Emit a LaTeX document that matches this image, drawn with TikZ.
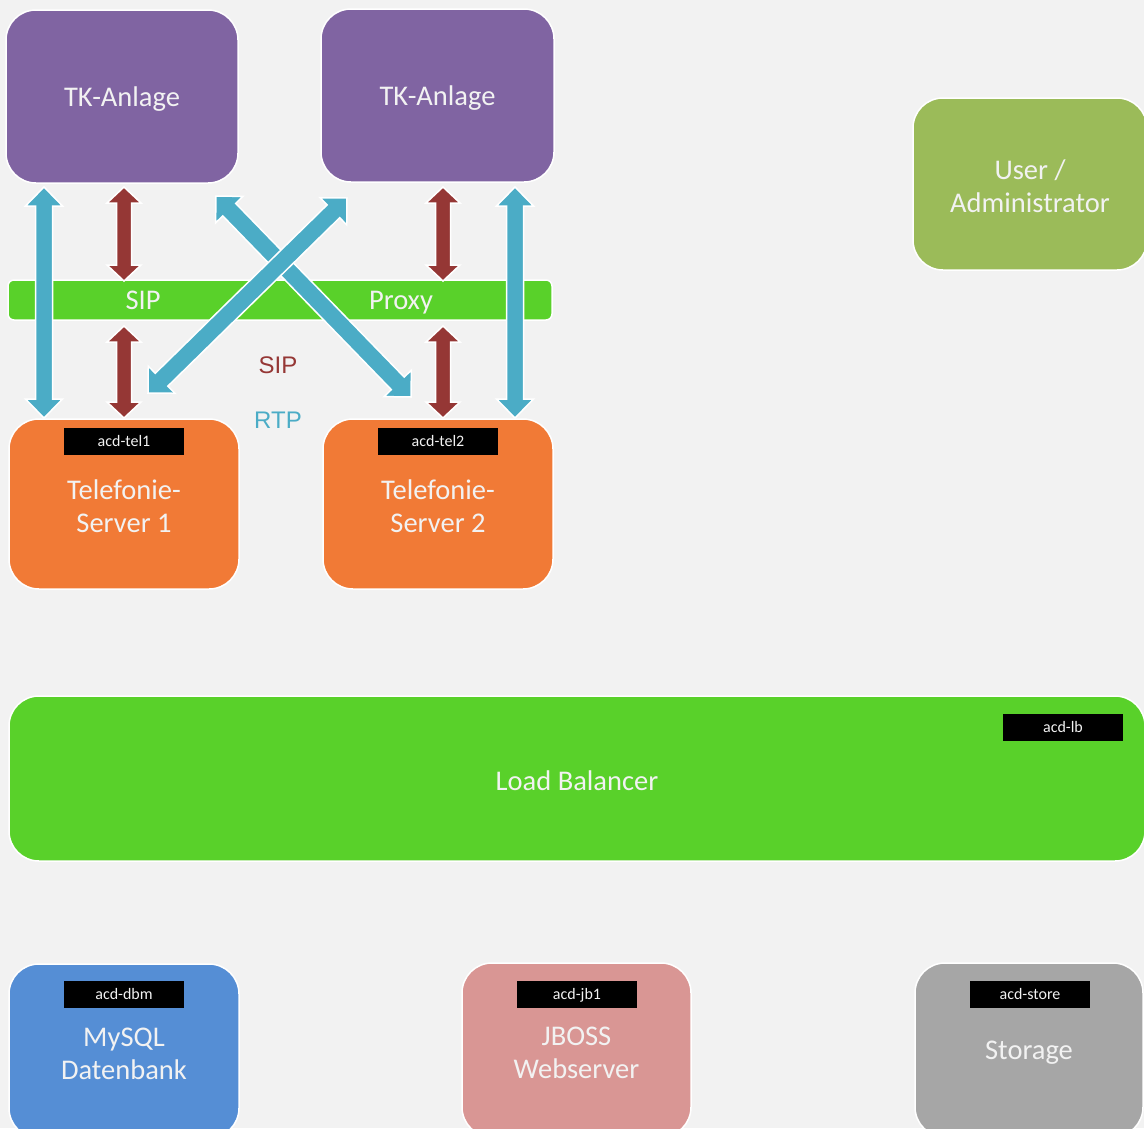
\documentclass[tikz,border=0pt]{standalone}
\usepackage{fontspec}
\setmainfont{Carlito}
\newfontfamily\arialfont{Liberation Sans}
\usetikzlibrary{calc}
\definecolor{bg}{HTML}{F2F2F2}
\definecolor{tkpurple}{HTML}{8064A2}
\definecolor{usergreen}{HTML}{9BBB59}
\definecolor{brightgreen}{HTML}{59D12A}
\definecolor{tsorange}{HTML}{F17A36}
\definecolor{dbblue}{HTML}{558ED5}
\definecolor{jbpink}{HTML}{D99694}
\definecolor{stgray}{HTML}{A6A6A6}
\definecolor{siprot}{HTML}{953735}
\definecolor{rtpblue}{HTML}{4BACC6}
\definecolor{txt}{HTML}{F2F2F2}
% fat double arrow: colour, start, end, shaft half width, head half width, head length
\newcommand{\fatarrow}[6]{%
  \coordinate (fa1) at ($(#2)!#6!(#3)$);
  \coordinate (fa2) at ($(#3)!#6!(#2)$);
  \filldraw[fill=#1, draw=white, line width=1.5pt, line join=miter]
    (#2) -- ($(fa1)!#5!90:(#3)$) -- ($(fa1)!#4!90:(#3)$)
    -- ($(fa2)!#4!-90:(#2)$) -- ($(fa2)!#5!-90:(#2)$) -- (#3)
    -- ($(fa2)!#5!90:(#2)$) -- ($(fa2)!#4!90:(#2)$)
    -- ($(fa1)!#4!-90:(#3)$) -- ($(fa1)!#5!-90:(#3)$) -- cycle;}
\begin{document}
\begin{tikzpicture}[x=1pt,y=-1pt,
  box/.style={draw=white, line width=1.5pt, rounded corners=30pt, inner sep=0pt},
  boxtext/.style={label={[lbl, align=center, yshift=-2.5pt]center:#1}},
  tag/.style={fill=black, text=txt, minimum width=120pt, minimum height=27pt,
    inner sep=0pt, text height=12.5pt, text depth=2.5pt, font=\fontsize{16}{19}\selectfont},
  lbl/.style={text=txt, inner sep=0pt, font=\fontsize{28.5}{33}\selectfont},
  barlbl/.style={lbl, text height=20pt, text depth=6pt},
  legend/.style={inner sep=0pt, font=\arialfont\fontsize{24}{29}\selectfont}]
\useasboundingbox (0,0) rectangle (1144,1128);
\fill[bg] (0,0) rectangle (1144,1128);
\clip (0,0) rectangle (1144,1128);

% top boxes
\node[box, fill=tkpurple, minimum width=232pt, minimum height=173pt, boxtext={TK-Anlage}] (tk1) at (122,96.5) {};
\node[box, fill=tkpurple, minimum width=233pt, minimum height=173pt, boxtext={TK-Anlage}] (tk2) at (437.5,95.5) {};
\node[box, fill=usergreen, minimum width=234pt, minimum height=172pt, boxtext={User /\\Administrator}] (user) at (1030,184) {};

% proxy bar
\node[box, fill=brightgreen, rounded corners=6pt, minimum width=544pt, minimum height=40pt] (proxy) at (280,300) {};
\node[barlbl] (proxysip) at (143,302) {SIP};
\node[barlbl] (proxyname) at (401,302) {Proxy};

% telephony servers
\node[box, fill=tsorange, minimum width=230pt, minimum height=170pt, boxtext={Telefonie-\\Server 1}] (ts1) at (124,504) {};
\node[box, fill=tsorange, minimum width=230pt, minimum height=170pt, boxtext={Telefonie-\\Server 2}] (ts2) at (438,504) {};
\node[tag] (tag1) at (124,441.5) {acd-tel1};
\node[tag] (tag2) at (438,441.5) {acd-tel2};

% load balancer
\node[box, fill=brightgreen, minimum width=1136pt, minimum height=165pt, boxtext={Load Balancer}] (lb) at (577,778.5) {};
\node[tag] (taglb) at (1063,727.5) {acd-lb};

% bottom row
\node[box, fill=dbblue, minimum width=230pt, minimum height=174pt, boxtext={MySQL\\Datenbank}] (db) at (124,1051) {};
\node[box, fill=jbpink, minimum width=229pt, minimum height=174pt, boxtext={JBOSS\\Webserver}] (jb) at (576.5,1050) {};
\node[box, fill=stgray, minimum width=228pt, minimum height=174pt, boxtext={Storage}] (st) at (1029,1050) {};
\node[tag] (tagdb) at (124,994.5) {acd-dbm};
\node[tag] (tagjb) at (577,994.5) {acd-jb1};
\node[tag] (tagst) at (1030,994.5) {acd-store};

% connector end points
\coordinate (rtpl1) at (44,187);  \coordinate (rtpl2) at (44,418);
\coordinate (rtpr1) at (515,187); \coordinate (rtpr2) at (515,418);
\coordinate (sipla1) at (124,187); \coordinate (sipla2) at (124,281);
\coordinate (siplb1) at (124,326); \coordinate (siplb2) at (124,418);
\coordinate (sipra1) at (443,187); \coordinate (sipra2) at (443,281);
\coordinate (siprb1) at (443,326); \coordinate (siprb2) at (443,418);
\coordinate (xa1) at (216,196); \coordinate (xa2) at (411,397);
\coordinate (xb1) at (347,198); \coordinate (xb2) at (148,393);

% RTP arrows
\fatarrow{rtpblue}{rtpl1}{rtpl2}{8.5pt}{18.5pt}{19pt}
\fatarrow{rtpblue}{rtpr1}{rtpr2}{8.5pt}{18.5pt}{19pt}
\fatarrow{rtpblue}{xa1}{xa2}{9pt}{19pt}{19pt}
\fatarrow{rtpblue}{xb1}{xb2}{9pt}{19pt}{19pt}
% SIP arrows
\fatarrow{siprot}{sipla1}{sipla2}{7.5pt}{17pt}{16pt}
\fatarrow{siprot}{siplb1}{siplb2}{7.5pt}{17pt}{16pt}
\fatarrow{siprot}{sipra1}{sipra2}{7.5pt}{17pt}{16pt}
\fatarrow{siprot}{siprb1}{siprb2}{7.5pt}{17pt}{16pt}

% legend
\node[legend, text=siprot] (legsip) at (278,365) {SIP};
\node[legend, text=rtpblue] (legrtp) at (278,420) {RTP};
\end{tikzpicture}
\end{document}
